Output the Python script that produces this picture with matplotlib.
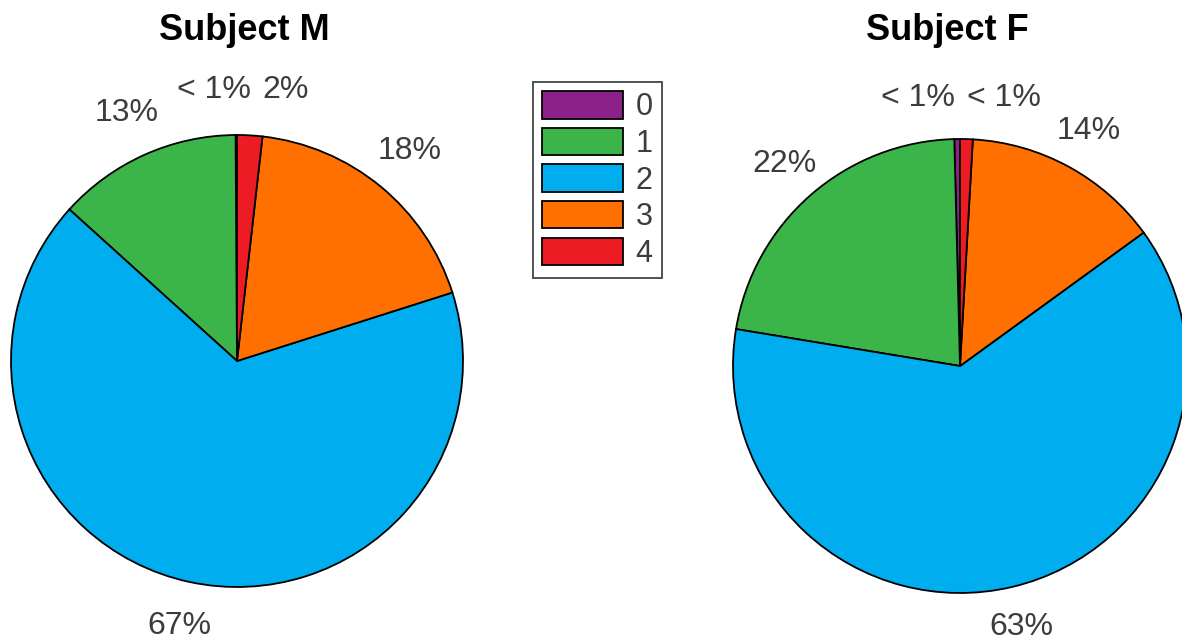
import matplotlib
matplotlib.use("Agg")
import matplotlib.pyplot as plt
import numpy as np

# Share of each category per subject (percent)
categories = ["0", "1", "2", "3", "4"]
subject_m = [0.1, 13.2, 66.6, 18.3, 1.8]
subject_f = [0.4, 22.0, 62.6, 14.1, 0.9]
titles = ["Subject M", "Subject F"]

colors = ["#8C2189", "#3BB44A", "#00AEEF", "#FF7000", "#ED1C24"]

plt.rcParams["font.family"] = ["Liberation Sans", "DejaVu Sans"]

W, H = 1182, 642
fig = plt.figure(figsize=(W / 100, H / 100), dpi=100)

PAD = 1.02


def px_axes(cx, cy, r):
    rr = r * PAD
    return fig.add_axes([(cx - rr) / W, (H - cy - rr) / H, 2 * rr / W, 2 * rr / H])


def pct_label(p):
    return "< 1%" if p < 1 else f"{p:.0f}%"


def draw_pie(ax, values, nudges, dist):
    total = float(np.sum(values))
    pct = [100.0 * v / total for v in values]
    wedges, _ = ax.pie(values, colors=colors, startangle=90, counterclock=True,
                       wedgeprops=dict(edgecolor="black", linewidth=1.3))
    ax.set_xlim(-PAD, PAD)
    ax.set_ylim(-PAD, PAD)
    ax.set_aspect("equal")
    ax.axis("off")
    for w, p, dx in zip(wedges, pct, nudges):
        ang = np.deg2rad((w.theta1 + w.theta2) / 2)
        ax.annotate(pct_label(p), (dist * np.cos(ang), dist * np.sin(ang)),
                    xytext=(dx, 0), textcoords="offset pixels",
                    ha="center", va="center", fontsize=23, color="#3C3C3C",
                    annotation_clip=False)
    return wedges


ax_m = px_axes(237, 361, 226)
wedges = draw_pie(ax_m, subject_m, [-22, 0, 0, 0, 33], 1.2)
ax_f = px_axes(960, 366, 227)
draw_pie(ax_f, subject_f, [-39, 0, 0, 0, 36], 1.18)

fig.text(244 / W, 1 - 40 / H, titles[0], ha="center", va="baseline",
         fontsize=26, fontweight="bold")
fig.text(947 / W, 1 - 40 / H, titles[1], ha="center", va="baseline",
         fontsize=26, fontweight="bold")

leg = fig.legend(wedges, categories, loc="upper left",
                 bbox_to_anchor=(533 / W, 1 - 82 / H), frameon=True,
                 fontsize=22, handlelength=2.65, handleheight=1.0,
                 labelspacing=0.18, handletextpad=0.4, borderpad=0.3,
                 borderaxespad=0, fancybox=False)
leg.get_frame().set_edgecolor("#262626")
leg.get_frame().set_linewidth(1.4)
for t in leg.get_texts():
    t.set_color("#3C3C3C")

fig.savefig("out.png", dpi=100, facecolor="white")
